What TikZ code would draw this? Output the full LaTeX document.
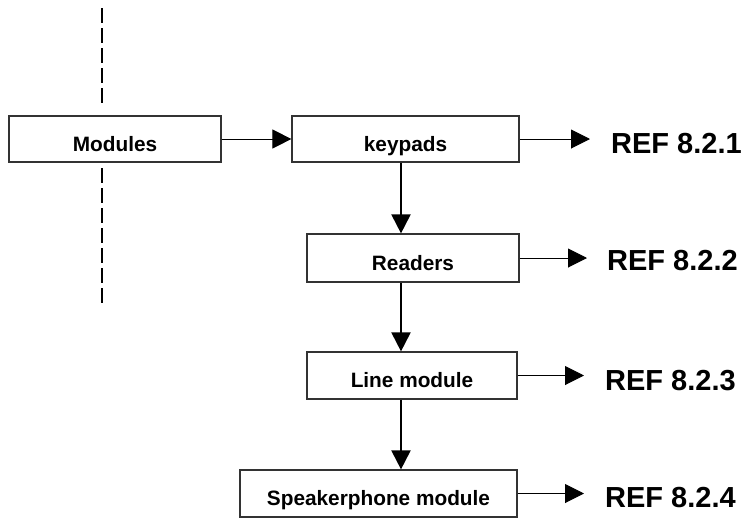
\documentclass[tikz,border=0pt]{standalone}
\usepackage{fontspec}
\setmainfont{Liberation Sans}
\usetikzlibrary{arrows.meta}
\tikzset{
  modbox/.style={draw=black!80, line width=1.2pt, fill=white, inner sep=0pt,
    font=\fontsize{20.8}{24}\selectfont\bfseries, text height=24pt, text depth=0pt},
  flow/.style={-{Triangle[length=19pt, width=19pt]}, line width=1pt},
  drop/.style={flow, line width=2pt},
  divider/.style={line width=2.5pt, dash pattern=on 15pt off 5pt},
  reflabel/.style={font=\fontsize{29}{32}\selectfont\bfseries, anchor=base west, inner sep=0pt},
}

\begin{document}
\begin{tikzpicture}[x=1pt, y=-1pt]
    \useasboundingbox (0,0) rectangle (756,523);

    % dashed divider behind the first box
    \draw[divider] (102,8) -- (102,103);
    \draw[divider] (102,168) -- (102,303);

    \node[modbox, minimum width=212pt, minimum height=46pt] (mod) at (115,139) {Modules};
    \node[modbox, minimum width=227pt, minimum height=46pt] (kp) at (405.5,139) {keypads};
    \node[modbox, minimum width=212pt, minimum height=48pt] (rd) at (413,258) {Readers};
    \node[modbox, minimum width=210pt, minimum height=47pt] (ln) at (412,375.5) {Line module};
    \node[modbox, minimum width=277pt, minimum height=47pt] (sp) at (378.5,493.5) {Speakerphone module};

    \node[reflabel] (ref1) at (611,153) {REF 8.2.1};
    \node[reflabel] (ref2) at (607,270) {REF 8.2.2};
    \node[reflabel] (ref3) at (605,390) {REF 8.2.3};
    \node[reflabel] (ref4) at (605,507) {REF 8.2.4};

    \coordinate (spine) at (401,0);

    \draw[flow] (mod) -- (kp);
    \draw[drop] (kp.south -| spine) -- (rd.north -| spine);
    \draw[drop] (rd.south -| spine) -- (ln.north -| spine);
    \draw[drop] (ln.south -| spine) -- (sp.north -| spine);

    \draw[flow, shorten >=21pt] (kp.east) -- (kp.east -| ref1.west);
    \draw[flow, shorten >=20pt] (rd.east) -- (rd.east -| ref2.west);
    \draw[flow, shorten >=21pt] (ln.east) -- (ln.east -| ref3.west);
    \draw[flow, shorten >=21pt] (sp.east) -- (sp.east -| ref4.west);
\end{tikzpicture}
\end{document}
